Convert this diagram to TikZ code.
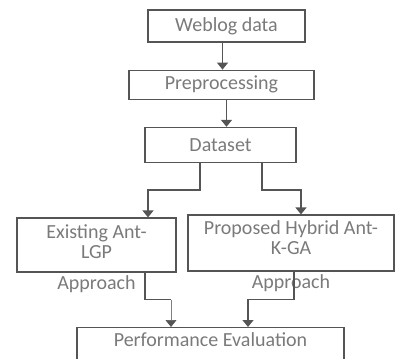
\documentclass[tikz,border=0pt]{standalone}
\usepackage{fontspec}
\setmainfont{Carlito}
\usetikzlibrary{arrows.meta,positioning}

\definecolor{linegray}{HTML}{555555}
\definecolor{textgray}{HTML}{7A7A7A}

\begin{document}
\begin{tikzpicture}[
  x=1pt, y=1pt,
  node distance=13.5pt,
  box/.style={draw=linegray, line width=0.6pt, align=center, inner sep=0pt, text=textgray, font=\fontsize{10pt}{10pt}\selectfont},
  lbl/.style={text=textgray, inner sep=0pt, font=\fontsize{10pt}{10pt}\selectfont},
  arrow/.style={-{Triangle[width=5.5pt,length=3.5pt,color=linegray]}, linegray, line width=0.75pt},
  wire/.style={linegray, line width=0.75pt}
]
\clip (0,0) rectangle (197.5,-179);
\useasboundingbox (0,0) rectangle (197.5,-179);

\node[box, minimum width=78.5pt, minimum height=16pt] (weblog) at (113.25,-13) {Weblog data};
\node[box, minimum width=92.5pt, minimum height=14.5pt, below=of weblog, xshift=-2.5pt] (prep) {Preprocessing};
\node[box, minimum width=75.5pt, minimum height=17.5pt, below=of prep, xshift=-0.5pt] (dataset) {Dataset};
\node[box, minimum width=79.5pt, minimum height=27pt, text depth=3pt] (existing) at (48.25,-122.5) {Existing Ant-\\LGP};
\node[box, minimum width=103pt, minimum height=28pt, text depth=5pt] (proposed) at (145.5,-121.5) {Proposed Hybrid Ant-\\K-GA};
\node[lbl, below=1.5pt of existing] (existlbl) {Approach};
\node[lbl, below=1.5pt of proposed] (proplbl) {Approach};
\node[box, minimum width=133.5pt, minimum height=25pt, anchor=north, text depth=13pt] (perf) at (105.25,-163.5) {Performance Evaluation};

\coordinate (leftin) at ([xshift=-19.75pt]perf.north);

\draw[arrow] ([xshift=-2pt]weblog.south) -- ([xshift=-2pt]weblog.south |- prep.north);
\draw[arrow] ([xshift=2.5pt]prep.south) -- ([xshift=2.5pt]prep.south |- dataset.north);
\draw[arrow] ([xshift=-10.25pt]dataset.south) -- ++(0,-13.5) -| ([xshift=25.75pt]existing.north);
\draw[arrow] ([xshift=20.75pt]dataset.south) -- ++(0,-13.5) -| ([xshift=5pt]proposed.north);
\draw[wire] ([xshift=24.25pt]existing.south) -- ++(0,-13.5) coordinate (leftkink) -- (leftkink -| leftin);
\draw[arrow, line width=0.35pt, gray] (leftkink -| leftin) -- (leftin);
\draw[arrow] ([xshift=1.5pt]proposed.south) -- ++(0,-14) -| ([xshift=18.75pt]perf.north);
\end{tikzpicture}
\end{document}
